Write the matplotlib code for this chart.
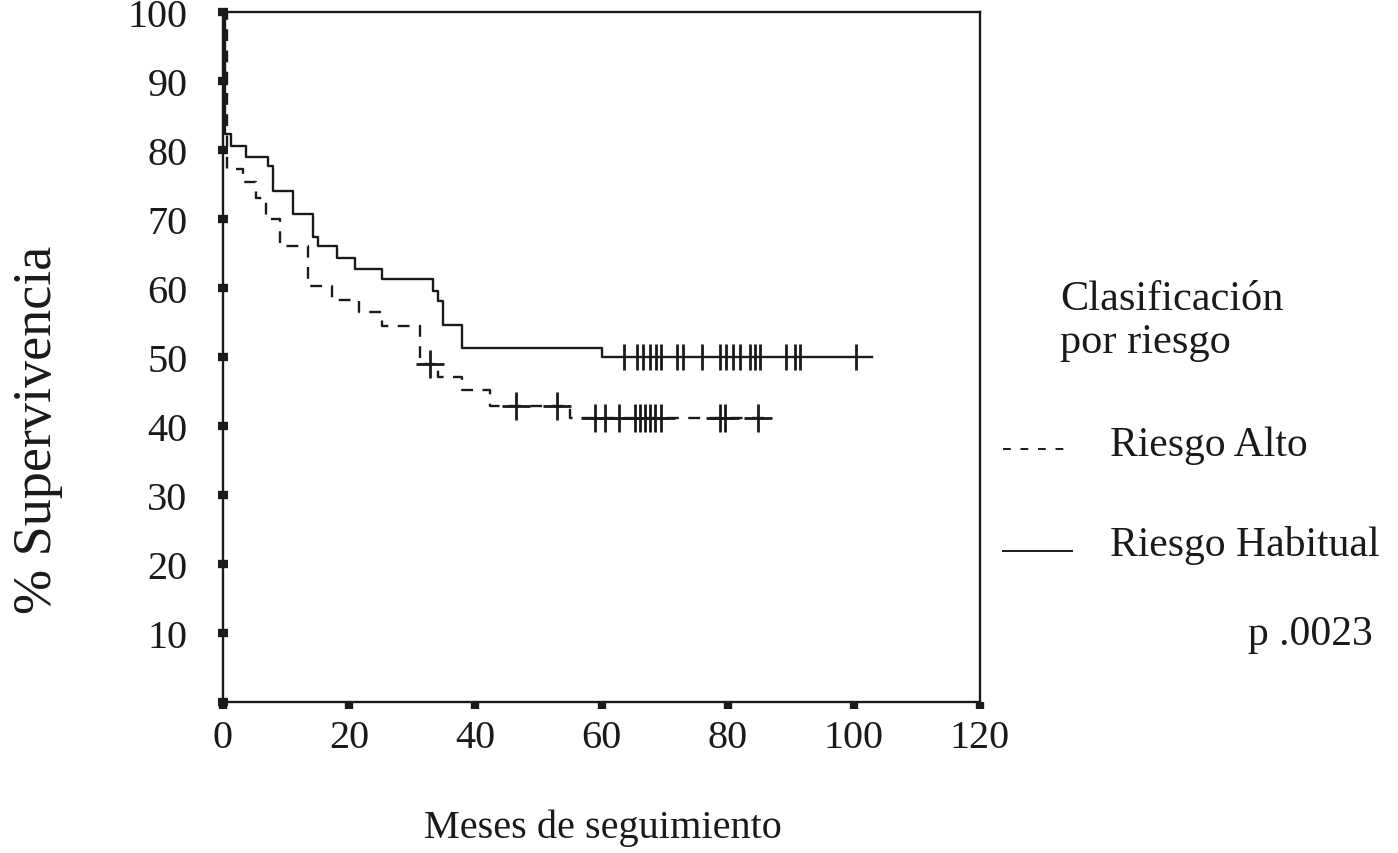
import numpy as np
import matplotlib
matplotlib.use("Agg")
import matplotlib.pyplot as plt
from matplotlib.lines import Line2D

plt.rcParams['font.family'] = ['Liberation Serif', 'DejaVu Serif']

# Kaplan-Meier curves: event times (months) and survival (%) after each step
habitual_t = [0, 0.3, 1.3, 3.7, 7.1, 7.9, 11.1, 14.3, 15.1, 18.0, 20.9, 25.2,
              33.3, 34.1, 34.9, 37.9, 60.1]
habitual_s = [100, 82.3, 80.6, 79.0, 77.7, 74.1, 70.7, 67.4, 66.1, 64.4, 62.8,
              61.3, 59.5, 58.1, 54.7, 51.3, 50.0]
habitual_cens = [63.5, 65.6, 66.6, 67.7, 68.7, 69.5, 71.9, 72.9, 75.9, 78.8,
                 79.8, 80.9, 81.9, 83.5, 84.3, 85.1, 89.3, 90.6, 91.5, 100.4]
habitual_end = 102.9

alto_t = [0, 0.6, 3.1, 5.3, 6.8, 9.0, 13.4, 17.2, 21.6, 25.2, 31.2, 34.1,
          37.9, 42.3, 55.0]
alto_s = [100, 77.3, 75.3, 73.1, 70.0, 66.1, 60.3, 58.3, 56.5, 54.5, 49.0,
          47.1, 45.2, 42.9, 41.2]
alto_cens = [32.8, 46.5, 52.9, 59.0, 60.5, 62.7, 65.3, 66.1, 66.9, 67.7,
             68.5, 69.5, 78.8, 79.6, 84.8]
alto_end = 87.0

xticks = [0, 20, 40, 60, 80, 100, 120]
yticks = [0, 10, 20, 30, 40, 50, 60, 70, 80, 90, 100]
ylabels = [''] + [str(v) for v in yticks[1:]]


def level_at(times, surv, x):
    idx = np.searchsorted(times, x, side='right') - 1
    return np.asarray(surv)[idx]


fig = plt.figure(figsize=(13.98, 8.54), dpi=100)
ax = fig.add_axes([223 / 1398, 1 - 703 / 854, (980 - 223) / 1398, (703 - 13) / 854])

ink = '#1a1a1a'

# Riesgo Habitual (solid)
ax.step(habitual_t + [habitual_end], habitual_s + [habitual_s[-1]],
        where='post', color=ink, lw=1.7)
ax.plot(habitual_cens, level_at(habitual_t, habitual_s, habitual_cens), ls='none',
        marker='|', ms=19, mew=2.0, color=ink)

# Riesgo Alto (dashed)
ax.step(alto_t + [alto_end], alto_s + [alto_s[-1]],
        where='post', color=ink, lw=1.7, ls=(0, (5, 4)))
ax.plot(alto_cens, level_at(alto_t, alto_s, alto_cens), ls='none',
        marker='+', ms=20, mew=2.0, color=ink)

ax.set_xlim(0, 120)
ax.set_ylim(0, 100)
ax.set_xticks(xticks)
ax.set_yticks(yticks)
ax.set_yticklabels(ylabels)
for s in ax.spines.values():
    s.set_linewidth(1.7)
    s.set_color(ink)
ax.tick_params(axis='y', direction='inout', length=7, width=6, pad=22,
               labelsize=29, colors=ink)
ax.tick_params(axis='x', direction='out', length=5, width=6, pad=7,
               labelsize=29, colors=ink)

fig.text(603 / 1398, 1 - 838 / 854, 'Meses de seguimiento', fontsize=29,
         ha='center', va='baseline', color=ink)
fig.text(38 / 1398, 1 - 430 / 854, '% Supervivencia', fontsize=39,
         rotation=90, ha='center', va='center', color=ink)

# legend block on the right
fig.text(1060 / 1398, 1 - 310 / 854, 'Clasificación', fontsize=30.5,
         va='baseline', color=ink)
fig.text(1060 / 1398, 1 - 353 / 854, 'por riesgo', fontsize=30.5,
         va='baseline', color=ink)
fig.add_artist(Line2D([1003 / 1398, 1072 / 1398], [1 - 450 / 854] * 2,
                      color=ink, lw=1.4, ls=(0, (4, 5))))
fig.text(1110 / 1398, 1 - 456 / 854, 'Riesgo Alto', fontsize=30,
         va='baseline', color=ink)
fig.add_artist(Line2D([1003 / 1398, 1072 / 1398], [1 - 552 / 854] * 2,
                      color=ink, lw=1.4))
fig.text(1110 / 1398, 1 - 556 / 854, 'Riesgo Habitual', fontsize=30,
         va='baseline', color=ink)
fig.text(1373 / 1398, 1 - 645 / 854, 'p .0023', fontsize=30,
         ha='right', va='baseline', color=ink)

fig.savefig('out.png', dpi=100, facecolor='white')
